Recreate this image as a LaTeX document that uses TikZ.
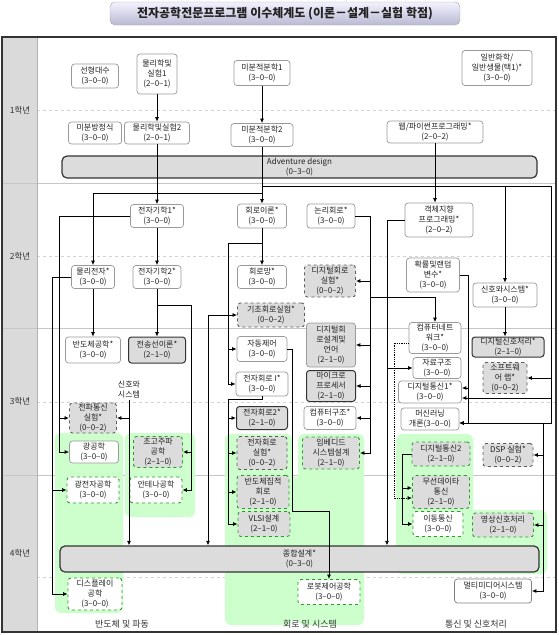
\documentclass[tikz,border=0pt]{standalone}
\usepackage{fontspec}
\setmainfont{Noto Sans CJK KR}
\usetikzlibrary{arrows.meta,calc}
\definecolor{gbg}{HTML}{CCFFCC}
\definecolor{gdash}{HTML}{2E9A2E}
\definecolor{labf}{HTML}{DCDCDC}
\definecolor{bord}{HTML}{9A9A9A}
\definecolor{colg}{HTML}{DADADA}
\definecolor{dk}{HTML}{333333}
\definecolor{tx}{HTML}{222222}
\begin{document}
\begin{tikzpicture}[x=1pt,y=-1pt,
 base/.style={rounded corners=3pt, align=center, inner sep=0.5pt, font=\fontsize{8}{10}\selectfont, line width=0.7pt, text=tx},
 wbox/.style={base, draw=bord, fill=white},
 wgreen/.style={base, draw=gdash, fill=white, dashed, line width=0.9pt},
 lgreen/.style={base, draw=gdash, fill=labf, dashed, line width=0.9pt},
 ldash/.style={base, draw=dk!80, fill=labf, dashed, line width=0.9pt},
 ldark/.style={base, draw=dk, fill=labf, line width=1pt},
 llight/.style={base, draw=bord, fill=labf},
 bigbox/.style={base, draw=dk, fill=labf, line width=1.2pt, rounded corners=5pt},
 arr/.style={-{Latex[length=4.5pt,width=4pt]}, line width=0.8pt, black},
 yl/.style={font=\fontsize{8.5}{10}\selectfont, text=dk},
 gl/.style={font=\fontsize{9}{11}\selectfont, text=dk}
]
\useasboundingbox (0,0) rectangle (559,635);
% title
\shade[top color=blue!5, bottom color=blue!22!gray!45, draw=gray!70, rounded corners=5pt] (110,2) rectangle (460,25);
\node[font=\fontsize{12}{14}\selectfont\bfseries, text=tx] (title) at (285,14) {전자공학전문프로그램 이수체계도 (이론－설계－실험 학점)};
% frame
\fill[white] (2,37) rectangle (556,632);
\fill[colg] (2,37) rectangle (37,632);
\foreach \yy in {183,328,475} \draw[gray!45, line width=0.6pt] (2,\yy) -- (556,\yy);
\foreach \yy in {110,256,402,577} \draw[gray!35, dashed, line width=0.6pt] (37,\yy) -- (556,\yy);
\draw[gray!60, line width=0.6pt] (37,37) -- (37,632);
% green areas
\fill[gbg, rounded corners=6pt] (55,433) rectangle (123,613);
\fill[gbg, rounded corners=6pt] (125,433) rectangle (195,517);
\fill[gbg, rounded corners=6pt] (225,434) rectangle (292,625);
\fill[gbg, rounded corners=6pt] (298,434) rectangle (364,625);
\fill[gbg] (290,477) rectangle (300,620);
\fill[gbg, rounded corners=6pt] (396,434) rectangle (473,574);
\fill[gbg, rounded corners=6pt] (396,510) rectangle (547,574);
\draw[dk, line width=1.2pt] (2,37) rectangle (556,632);
% year labels
\node[yl] (y1) at (20,110) {1학년};
\node[yl] (y2) at (20,256) {2학년};
\node[yl] (y3) at (20,401) {3학년};
\node[yl] (y4) at (20,553) {4학년};
% year 1
\node[wbox, minimum width=47pt, minimum height=24pt] (la) at (95,76) {선형대수\\(3–0–0)};
\node[wbox, minimum width=40pt, minimum height=40pt] (ph1) at (157,74) {물리학및\\실험1\\(2–0–1)};
\node[wbox, minimum width=56pt, minimum height=25pt] (ca1) at (262,73) {미분적분학1\\(3–0–0)};
\node[wbox, minimum width=70pt, minimum height=35pt] (gc) at (497,68) {일반화학/\\일반생물(택1)*\\(3–0–0)};
\node[wbox, minimum width=53pt, minimum height=22pt] (de) at (95,133) {미분방정식\\(3–0–0)};
\node[wbox, minimum width=65pt, minimum height=22pt] (ph2) at (157,133) {물리학및실험2\\(2–0–1)};
\node[wbox, minimum width=62pt, minimum height=23pt] (ca2) at (262,135) {미분적분학2\\(3–0–0)};
\node[wbox, minimum width=96pt, minimum height=22pt] (web) at (435,132) {웹/파이썬프로그래밍*\\(2–0–2)};
\node[bigbox, minimum width=475pt, minimum height=22pt] (adv) at (299.5,167) {Adventure design\\(0–3–0)};
% year 2
\node[wbox, minimum width=53pt, minimum height=23pt] (em1) at (157,216) {전자기학1*\\(3–0–0)};
\node[wbox, minimum width=49pt, minimum height=24pt] (ct) at (262,216) {회로이론*\\(3–0–0)};
\node[wbox, minimum width=48pt, minimum height=24pt] (lc) at (331,216) {논리회로*\\(3–0–0)};
\node[wbox, minimum width=68pt, minimum height=34pt] (oop) at (439,220) {객체지향\\프로그래밍*\\(2–0–2)};
\node[wbox, minimum width=43pt, minimum height=23pt] (pe) at (93,277) {물리전자*\\(3–0–0)};
\node[wbox, minimum width=48pt, minimum height=23pt] (em2) at (157,277) {전자기학2*\\(3–0–0)};
\node[wbox, minimum width=49pt, minimum height=23pt] (cn) at (262,277) {회로망*\\(3–0–0)};
\node[ldash, minimum width=51pt, minimum height=32pt] (dcl) at (330,281) {디지털회로\\실험*\\(0–0–2)};
\node[wbox, minimum width=53pt, minimum height=34pt] (prob) at (433,275) {확률및랜덤\\변수*\\(3–0–0)};
\node[wbox, minimum width=64pt, minimum height=24pt] (ss) at (505,295) {신호와시스템*\\(3–0–0)};
\node[ldash, minimum width=67pt, minimum height=24pt] (bcl) at (271,315) {기초회로실험*\\(0–0–2)};
% year 3
\node[wbox, minimum width=55pt, minimum height=26pt] (semi) at (93,350) {반도체공학*\\(3–0–0)};
\node[ldark, minimum width=57pt, minimum height=26pt] (tl) at (157,350) {전송선이론*\\(2–1–0)};
\node[base, inner sep=1pt] (sslbl) at (129,390) {신호와\\시스템};
\node[ldash, minimum width=47pt, minimum height=30pt] (rfl) at (93,418) {전파통신\\실험*\\(0–0–2)};
\node[wbox, minimum width=49pt, minimum height=22pt] (opt) at (94,452) {광공학\\(3–0–0)};
\node[lgreen, minimum width=49pt, minimum height=31pt] (mw) at (158,452) {초고주파\\공학\\(2–1–0)};
\node[wbox, minimum width=50pt, minimum height=25pt] (ac) at (262,349) {자동제어\\(3–0–0)};
\node[llight, minimum width=49pt, minimum height=44pt] (dcd) at (331,345) {디지털회\\로설계및\\언어\\(2–1–0)};
\node[ldark, minimum width=49pt, minimum height=31pt] (mp) at (331,386) {마이크로\\프로세서\\(2–1–0)};
\node[wbox, minimum width=52pt, minimum height=24pt] (ec1) at (262,384) {전자회로 I*\\(3–0–0)};
\node[ldark, minimum width=51pt, minimum height=23pt] (ec2) at (262,418) {전자회로2*\\(2–1–0)};
\node[wbox, minimum width=52pt, minimum height=23pt] (car) at (330,418) {컴퓨터구조*\\(3–0–0)};
\node[ldash, minimum width=50pt, minimum height=33pt] (ecl) at (262,453) {전자회로\\실험*\\(0–0–2)};
\node[lgreen, minimum width=57pt, minimum height=32pt] (emb) at (331,453) {임베디드\\시스템설계\\(2–1–0)};
\node[wbox, minimum width=52pt, minimum height=31pt] (cnw) at (435,338) {컴퓨터네트\\워크*\\(3–0–0)};
\node[wbox, minimum width=48pt, minimum height=21pt] (ds) at (437,368) {자료구조\\(3–0–0)};
\node[wbox, minimum width=63pt, minimum height=22pt] (dc1) at (430,392) {디지털통신1*\\(3–0–0)};
\node[wbox, minimum width=58pt, minimum height=22pt] (ml) at (430,419) {머신러닝\\개론(3–0–0)};
\node[ldark, minimum width=72pt, minimum height=20pt] (dsp) at (508,347) {디지털신호처리*\\(2–1–0)};
\node[ldash, minimum width=44pt, minimum height=31pt] (swl) at (505,378) {소프트웨\\어 랩*\\(0–0–2)};
\node[lgreen, minimum width=58pt, minimum height=24pt] (dc2) at (441,454) {디지털통신2\\(2–1–0)};
\node[ldash, minimum width=50pt, minimum height=23pt] (dspl) at (508,455) {DSP 실험*\\(0–0–2)};
% year 4
\node[wgreen, minimum width=52pt, minimum height=26pt] (oe) at (93,490) {광전자공학\\(3–0–0)};
\node[wgreen, minimum width=52pt, minimum height=26pt] (ant) at (156,490) {안테나공학\\(3–0–0)};
\node[lgreen, minimum width=52pt, minimum height=33pt] (rfic) at (263,492) {반도체집적\\회로\\(2–1–0)};
\node[lgreen, minimum width=52pt, minimum height=25pt] (vlsi) at (264,524) {VLSI설계\\(2–1–0)};
\node[lgreen, minimum width=57pt, minimum height=33pt] (wd) at (441,492) {무선데이타\\통신\\(2–1–0)};
\node[wgreen, minimum width=50pt, minimum height=25pt] (mob) at (438,524) {이동통신\\(3–0–0)};
\node[lgreen, minimum width=61pt, minimum height=24pt] (vsp) at (503,525) {영상신호처리\\(2–1–0)};
\node[bigbox, minimum width=479pt, minimum height=26pt] (jh) at (299.5,559) {종합설계*\\(0–3–0)};
\node[wgreen, minimum width=54pt, minimum height=32pt] (disp) at (95,594) {디스플레이\\공학\\(3–0–0)};
\node[wgreen, minimum width=62pt, minimum height=25pt] (robot) at (329,592) {로봇제어공학\\(3–0–0)};
\node[wbox, draw=gray, minimum width=77pt, minimum height=24pt] (mm) at (493,591) {멀티미디어시스템\\(3–0–0)};
% group labels
\node[gl] (g1) at (122,624) {반도체 및 파동};
\node[gl] (g2) at (310,624) {회로 및 시스템};
\node[gl] (g3) at (476,624) {통신 및 신호처리};
% connectors
\draw[arr] (ph1.south) -- (ph2.north);
\draw[arr] (ca1.south) -- (ca2.north);
\draw[arr] (ph2.south) -- (em1.north);
\draw[arr] (ca2.south) -- (ct.north);
\coordinate (j193) at (262,193);
\draw[arr] (j193) -| (pe.north);
\coordinate (j186) at (262,186);
\coordinate (mlr) at ($(ml.east)+(0,4)$);
\coordinate (dca) at ($(dc1.east)+(0,-4)$);
\coordinate (dcb) at ($(dc1.east)+(0,6)$);
\draw[arr] (j186) -| (551,0 |- mlr) -- (mlr);
\draw[arr] (ss.north |- j186) -- (ss.north);
\draw[arr] (551,0 |- swl.east) -- (swl.east);
\draw[arr] (551,0 |- dcb) -- (dcb);
\draw[arr] (web.south) -- (web.south |- oop.north);
\draw[arr] (em1.south) -- (em2.north);
\draw[arr] (em1.west) -| (59,0 |- opt.west) -- (opt.west);
\draw[arr] (59,0 |- rfl.west) -- (rfl.west);
\draw[arr] (pe.west) -| (52,0 |- disp.west) -- (disp.west);
\draw[arr] (52,0 |- oe.west) -- (oe.west);
\draw[arr] (pe.south) -- (semi.north);
\draw[arr] (em2.south) -- (tl.north);
\coordinate (j305) at (157,305);
\draw[arr] (j305) -| (191,0 |- ant.east) -- (ant.east);
\draw[arr] (191,0 |- mw.east) -- (mw.east);
\draw[arr] (sslbl.south) -- (sslbl.south |- jh.north);
\draw[arr] (sslbl.south |- rfl.east) -- (rfl.east);
\coordinate (k208) at (208,315);
\draw[arr] (k208) -- (bcl.west);
\draw[arr] (k208) -- (k208 |- jh.north);
\draw[arr] (ct.south) -- (cn.north);
\coordinate (k243) at (262,243);
\draw[arr] (k243) -| (228,0 |- ec1.west) -- (ec1.west);
\draw[arr] (228,0 |- ac.west) -- (ac.west);
\coordinate (k403) at (262,399);
\draw[arr] (ec1.south) -- (k403) -| (228,0 |- vlsi.west) -- (vlsi.west);
\draw[arr] (228,0 |- ec2.west) -- (ec2.west);
\draw[arr] (228,0 |- ecl.west) -- (ecl.west);
\draw[arr] (228,0 |- rfic.west) -- (rfic.west);
\coordinate (k512) at (292,511);
\draw[arr] (ac.east) -| (k512) -| (robot.north);
\draw[arr] (lc.east) -| (370,0 |- emb.east) -- (emb.east);
\draw[arr] (370,0 |- dcl.east) -- (dcl.east);
\draw[arr] (370,0 |- dcd.east) -- (dcd.east);
\draw[arr] (370,0 |- mp.east) -- (mp.east);
\draw[arr] (370,0 |- car.east) -- (car.east);
\coordinate (k297) at (370,297);
\draw[arr] (k297) -| (cnw.north);
\draw[arr] (oop.west) -| (387,0 |- jh.north);
\draw[arr] (387,0 |- ds.west) -- (ds.west);
\draw[arr, densely dotted] ($(cnw.west)+(0,5)$) -| (394,498) -- ($(wd.west)+(0,6)$);
\draw[arr] (prob.east) -| (468,0 |- mlr) -- (mlr);
\draw[arr] (468,0 |- dca) -- (dca);
\draw[arr] (ss.south) -- (ss.south |- dsp.north);
\draw[arr] (543,0 |- mlr) -- (543,0 |- mm.east) -- (mm.east);
\draw[arr] (543,0 |- vsp.east) -- (vsp.east);
\draw[arr] (543,0 |- dspl.east) -- (dspl.east);
\draw[arr] (dc2.west) -| (402,0 |- mob.west) -- (mob.west);
\draw[arr] (402,488) -- ($(wd.west)+(0,-4)$);
\end{tikzpicture}
\end{document}
